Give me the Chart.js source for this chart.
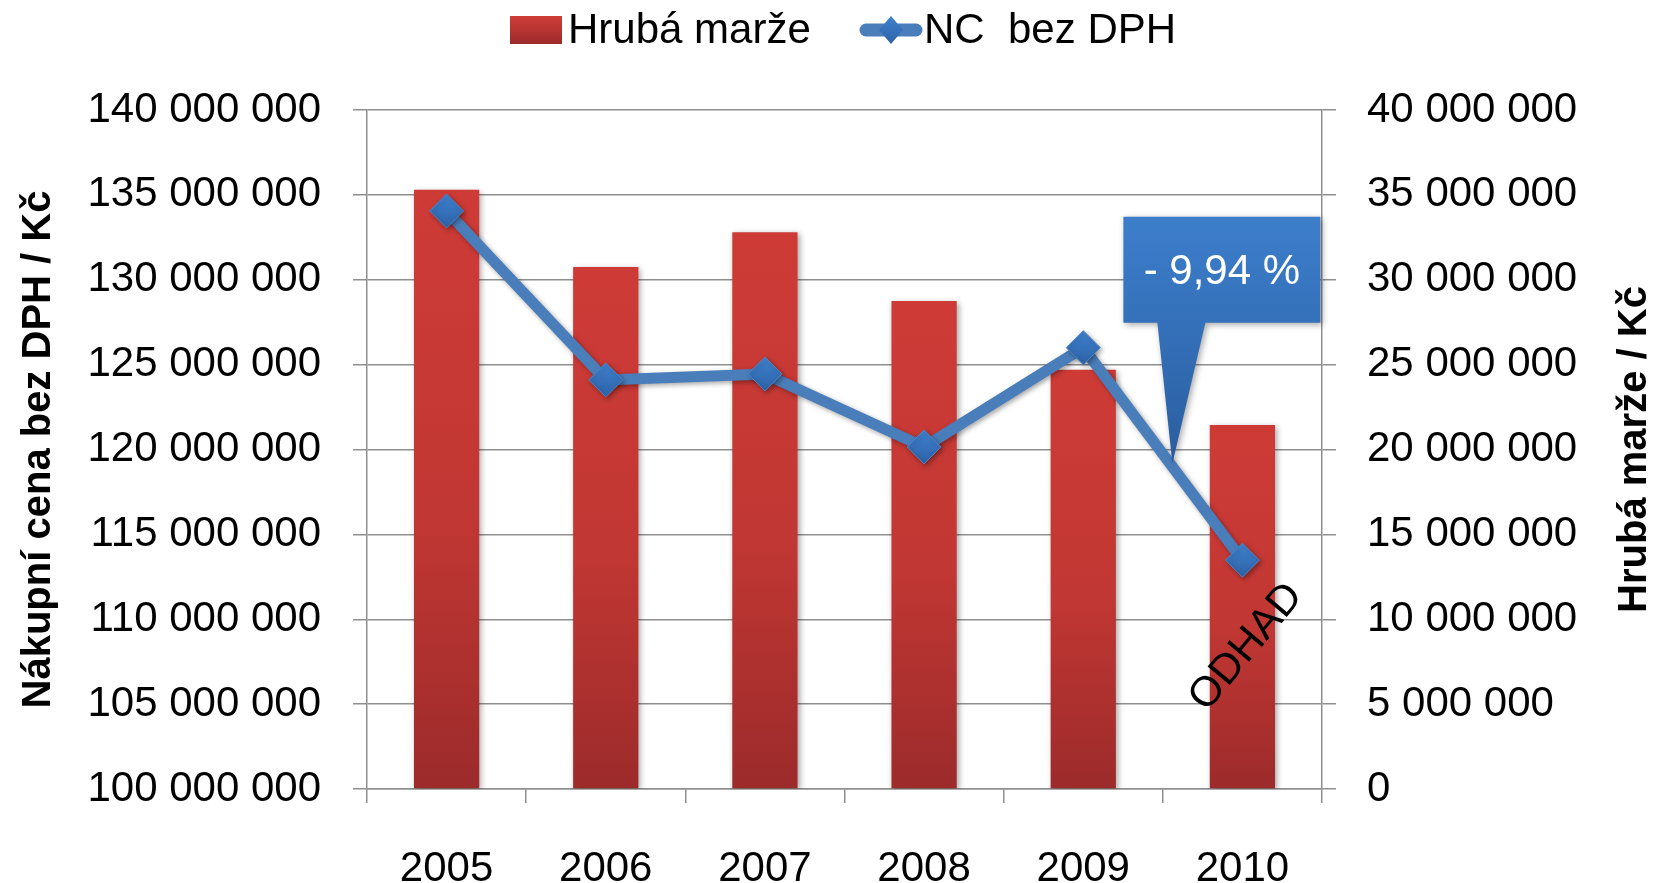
<!DOCTYPE html>
<html lang="cs">
<head>
<meta charset="utf-8">
<title>Hrubá marže a NC bez DPH</title>
<script src="https://cdn.jsdelivr.net/npm/chart.js@4.4.1/dist/chart.umd.min.js"></script>
<style>
    html, body { margin: 0; padding: 0; background: #fff; }
    #wrap { width: 1658px; height: 883px; position: relative; }
</style>
</head>
<body>
<div id="wrap"><canvas id="chart"></canvas></div>
<script>
// Data
const years = ["2005", "2006", "2007", "2008", "2009", "2010"];
const hrubaMarze = [35300000, 30750000, 32800000, 28750000, 24700000, 21450000];
const ncBezDph = [134050000, 124100000, 124450000, 120150000, 126000000, 113480000];
const leftTicks = [100000000, 105000000, 110000000, 115000000, 120000000, 125000000, 130000000, 135000000, 140000000];
const rightTicks = [0, 5000000, 10000000, 15000000, 20000000, 25000000, 30000000, 35000000, 40000000];
const calloutText = "- 9,94 %";
const odhadText = "ODHAD";

const FONT = "'Liberation Sans', Arial, sans-serif";
const GRID = "#8f8f8f";

// "140 000 000"
function fmt(v) {
    return String(v).replace(/\B(?=(\d{3})+(?!\d))/g, " ");
}

function setTicks(list) {
    return function (scale) {
        scale.ticks = list.map((v) => ({ value: v }));
    };
}

// Bar gradient, one per bar
function barFill(ctx) {
    const chart = ctx.chart;
    const area = chart.chartArea;
    if (!area || ctx.raw === undefined) return "#c43834";
    const top = chart.scales.y2.getPixelForValue(ctx.raw);
    const g = chart.ctx.createLinearGradient(0, top, 0, area.bottom);
    g.addColorStop(0, "#ce3b37");
    g.addColorStop(0.55, "#c13733");
    g.addColorStop(1, "#9c2b2b");
    return g;
}

function markerFill(ctx) {
    const chart = ctx.chart;
    if (!chart.chartArea || ctx.raw === undefined) return "#3a73bd";
    const y = chart.scales.y.getPixelForValue(ctx.raw);
    const g = chart.ctx.createLinearGradient(0, y - 17, 0, y + 17);
    g.addColorStop(0, "#3f81cf");
    g.addColorStop(1, "#2d62a6");
    return g;
}

// soft shadow under bars and line
const shadowPlugin = {
    id: "shadows",
    beforeDatasetDraw(chart, args) {
        const c = chart.ctx;
        c.save();
        c.shadowColor = "rgba(0,0,0,0.35)";
        c.shadowBlur = args.index === 0 ? 6 : 5;
        c.shadowOffsetX = 2;
        c.shadowOffsetY = 2;
    },
    afterDatasetDraw(chart) {
        chart.ctx.restore();
    }
};

// legend, right axis title, callout, ODHAD
const extrasPlugin = {
    id: "extras",
    afterDraw(chart) {
        const c = chart.ctx;
        const area = chart.chartArea;
        const x = chart.scales.x;
        const y = chart.scales.y;

        // legend
        c.save();
        const ly = 30;
        let g = c.createLinearGradient(0, ly - 14, 0, ly + 14);
        g.addColorStop(0, "#cf3d39");
        g.addColorStop(1, "#9c2b2b");
        c.fillStyle = g;
        c.fillRect(510, ly - 14, 52, 28);
        c.fillStyle = "#000";
        c.font = "42px " + FONT;
        c.textBaseline = "middle";
        c.textAlign = "left";
        c.fillText("Hrubá marže", 568, ly + 1);
        c.strokeStyle = "#4a7ebb";
        c.lineWidth = 13;
        c.lineCap = "round";
        c.beginPath();
        c.moveTo(866, ly);
        c.lineTo(916, ly);
        c.stroke();
        g = c.createLinearGradient(0, ly - 14, 0, ly + 14);
        g.addColorStop(0, "#3f81cf");
        g.addColorStop(1, "#2d62a6");
        c.fillStyle = g;
        c.beginPath();
        c.moveTo(891, ly - 14);
        c.lineTo(903, ly);
        c.lineTo(891, ly + 14);
        c.lineTo(879, ly);
        c.closePath();
        c.fill();
        c.fillStyle = "#000";
        c.fillText("NC  bez DPH", 924, ly + 1);
        c.restore();

        // right axis title
        c.save();
        c.translate(1635, (area.top + area.bottom) / 2);
        c.rotate(-Math.PI / 2);
        c.font = "bold 40px " + FONT;
        c.fillStyle = "#000";
        c.textAlign = "center";
        c.textBaseline = "middle";
        c.fillText("Hrubá marže / Kč", 0, 0);
        c.restore();

        // callout pointing at the 2009-2010 segment
        const x0 = x.getPixelForValue(4), x1 = x.getPixelForValue(5);
        const y0 = y.getPixelForValue(ncBezDph[4]), y1 = y.getPixelForValue(ncBezDph[5]);
        const t = 0.56;
        const tipX = x0 + (x1 - x0) * t;
        const tipY = y0 + (y1 - y0) * t - 3;
        const bx = tipX - 49, by = tipY - 247, bw = 197, bh = 106;
        c.save();
        c.shadowColor = "rgba(0,0,0,0.35)";
        c.shadowBlur = 6;
        c.shadowOffsetX = 2;
        c.shadowOffsetY = 2;
        g = c.createLinearGradient(0, by, 0, tipY);
        g.addColorStop(0, "#3d7ecb");
        g.addColorStop(0.45, "#3470b9");
        g.addColorStop(1, "#2b5d9e");
        c.fillStyle = g;
        c.beginPath();
        c.moveTo(bx, by);
        c.lineTo(bx + bw, by);
        c.lineTo(bx + bw, by + bh);
        c.lineTo(bx + 82, by + bh);
        c.lineTo(tipX, tipY);
        c.lineTo(bx + 34, by + bh);
        c.lineTo(bx, by + bh);
        c.closePath();
        c.fill();
        c.restore();
        c.save();
        c.fillStyle = "#fff";
        c.font = "42px " + FONT;
        c.textAlign = "center";
        c.textBaseline = "middle";
        c.fillText(calloutText, bx + bw / 2, by + 56);
        c.restore();

        // ODHAD
        c.save();
        c.translate(x.getPixelForValue(5) + 4, y.getPixelForValue(108350000));
        c.rotate(-50 * Math.PI / 180);
        c.font = "42px " + FONT;
        c.fillStyle = "#000";
        c.textAlign = "center";
        c.textBaseline = "middle";
        c.fillText(odhadText, 0, 0);
        c.restore();
    }
};

const chart = new Chart(document.getElementById("chart"), {
    data: {
        labels: years,
        datasets: [
            {
                type: "bar",
                label: "Hrubá marže",
                data: hrubaMarze,
                yAxisID: "y2",
                backgroundColor: barFill,
                borderWidth: 0,
                barPercentage: 0.41,
                categoryPercentage: 1,
                order: 2,
            },
            {
                type: "line",
                label: "NC  bez DPH",
                data: ncBezDph,
                yAxisID: "y",
                borderColor: "#4a7ebb",
                borderWidth: 11,
                tension: 0,
                pointStyle: "rectRot",
                pointRadius: 17,
                pointBackgroundColor: markerFill,
                pointBorderColor: "#4d84c4",
                pointBorderWidth: 1,
                order: 1,
            },
        ],
    },
    options: {
        responsive: true,
        maintainAspectRatio: false,
        animation: false,
        layout: { padding: { top: 110, left: 0, right: 0, bottom: 0 } },
        plugins: {
            legend: { display: false },
            tooltip: { enabled: false },
        },
        scales: {
            x: {
                type: "category",
                offset: true,
                grid: {
                    offset: true,
                    drawOnChartArea: false,
                    drawTicks: true,
                    tickLength: 14,
                    color: GRID,
                    lineWidth: 1.5,
                },
                border: { display: true, color: GRID, width: 1.5 },
                ticks: {
                    color: "#000",
                    font: { family: FONT, size: 42 },
                    padding: 41,
                    maxRotation: 0,
                },
                afterFit(s) { s.height = 94; },
            },
            y: {
                type: "linear",
                position: "left",
                min: 100000000,
                max: 140000000,
                afterBuildTicks: setTicks(leftTicks),
                grid: {
                    color: GRID,
                    lineWidth: 1.5,
                    tickLength: 14,
                },
                border: { display: true, color: GRID, width: 1.5 },
                ticks: {
                    color: "#000",
                    font: { family: FONT, size: 42 },
                    padding: 32,
                    callback: (v) => fmt(v),
                },
                title: {
                    display: true,
                    text: "Nákupní cena bez DPH / Kč",
                    color: "#000",
                    font: { family: FONT, size: 40, weight: "bold" },
                    padding: { top: 15, bottom: 0 },
                },
                afterFit(s) { s.width = 367; },
            },
            y2: {
                type: "linear",
                position: "right",
                min: 0,
                max: 40000000,
                afterBuildTicks: setTicks(rightTicks),
                grid: {
                    drawOnChartArea: false,
                    color: GRID,
                    lineWidth: 1.5,
                    tickLength: 14,
                },
                border: { display: true, color: GRID, width: 1.5 },
                ticks: {
                    color: "#000",
                    font: { family: FONT, size: 42 },
                    padding: 31,
                    callback: (v) => fmt(v),
                },
                afterFit(s) { s.width = 336; },
            },
        },
    },
    plugins: [shadowPlugin, extrasPlugin],
});
</script>
</body>
</html>
